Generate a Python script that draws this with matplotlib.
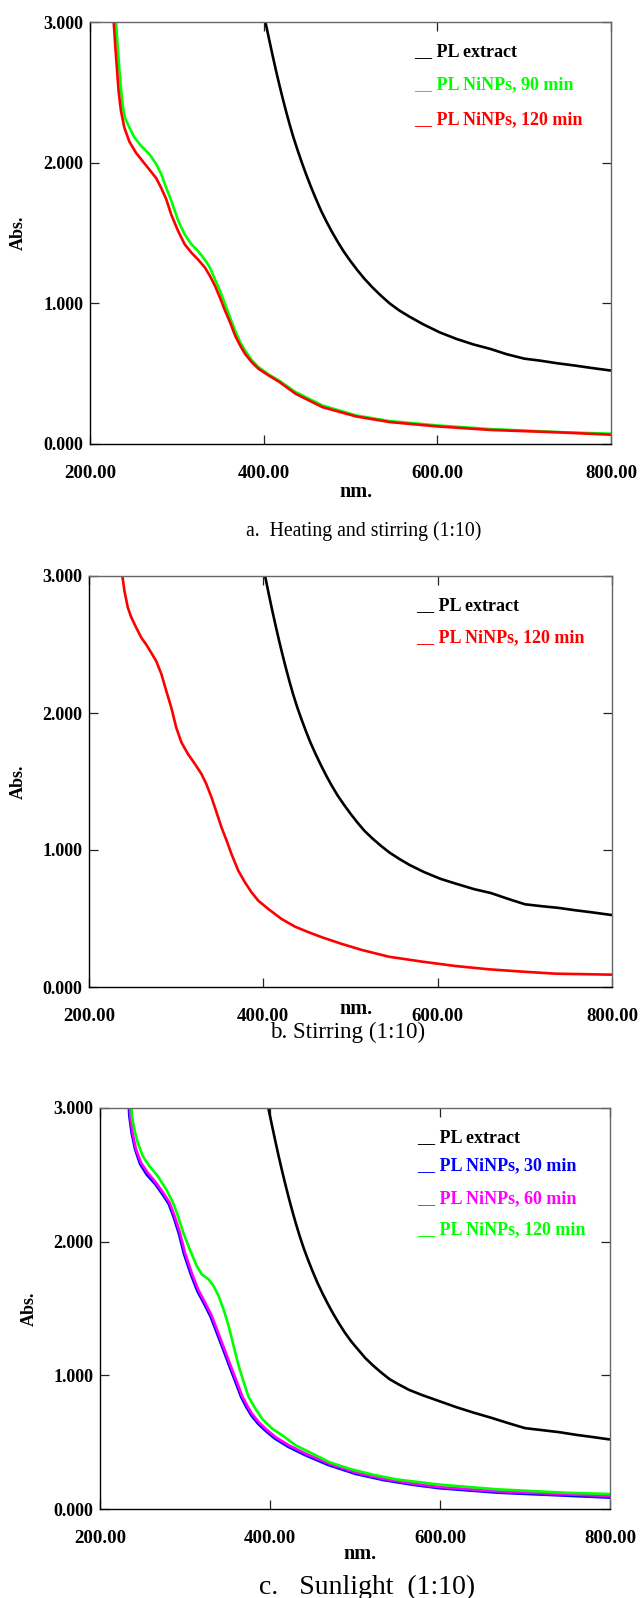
import matplotlib
matplotlib.use("Agg")
import matplotlib.pyplot as plt

# ---------------- data ----------------
# Panel a: Heating and stirring (1:10)
a_black_x = [401.6, 402, 406, 410, 414, 418, 422, 426, 430, 434, 439, 444, 449, 454, 460, 466, 472, 478, 485, 492,
             500, 508, 516, 525, 535, 545, 556, 568, 584, 603, 622, 642, 661, 680, 700, 719, 738, 758, 777, 800]
a_black_y = [3.02, 3.00, 2.885, 2.77, 2.66, 2.555, 2.455, 2.36, 2.27, 2.185, 2.09, 2.00, 1.915, 1.835, 1.745, 1.66,
             1.585, 1.515, 1.44, 1.37, 1.30, 1.235, 1.175, 1.115, 1.055, 1.00, 0.95, 0.905, 0.85, 0.793, 0.747, 0.707,
             0.676, 0.638, 0.607, 0.592, 0.574, 0.558, 0.541, 0.522]
a_green_x = [229.8, 231.7, 233.7, 235.6, 237.5, 240.2, 245.3, 251.1, 258.8, 268.5, 276.2, 282, 287.8, 293.6, 301.4, 309,
             316.8, 324.6, 332.3, 338, 343.9, 349.7, 355.5, 361.3, 367.1, 372.9, 378.7, 386.5, 394.2, 405.8, 417.4,
             436.8, 467.7, 506.4, 545, 600, 661, 738.5, 800]
a_green_y = [3.02, 2.84, 2.67, 2.53, 2.41, 2.32, 2.25, 2.18, 2.12, 2.06, 1.99, 1.92, 1.82, 1.73, 1.59, 1.49, 1.42, 1.37,
             1.31, 1.255, 1.17, 1.09, 0.995, 0.90, 0.806, 0.723, 0.664, 0.593, 0.546, 0.494, 0.452, 0.369, 0.274, 0.203,
             0.163, 0.132, 0.106, 0.085, 0.073]
a_red_x = [227.1, 229, 231, 232.9, 235.6, 239.5, 245.3, 253, 260.7, 268.5, 276.2, 282, 287.8, 293.6, 301.4, 309, 316.8,
           324.6, 332.3, 338, 343.9, 349.7, 355.5, 361.3, 367.1, 372.9, 378.7, 386.5, 394.2, 405.8, 417.4, 436.8, 467.7,
           506.4, 545, 600, 661, 738.5, 800]
a_red_y = [3.02, 2.84, 2.67, 2.51, 2.37, 2.25, 2.15, 2.07, 2.01, 1.95, 1.89, 1.82, 1.74, 1.63, 1.515, 1.42, 1.36, 1.31,
           1.255, 1.196, 1.125, 1.04, 0.948, 0.865, 0.771, 0.70, 0.64, 0.58, 0.534, 0.487, 0.444, 0.357, 0.262, 0.196,
           0.156, 0.125, 0.10, 0.083, 0.066]

# Panel b: Stirring (1:10)
b_black_x = [401.6, 402, 406, 410, 414, 418, 422, 426, 430, 434, 439, 444, 449, 454, 460, 466, 472, 478, 485, 492,
             500, 508, 516, 525, 535, 545, 556, 568, 584, 603, 622, 642, 661, 680, 700, 719, 738, 758, 777, 800]
b_black_y = [3.02, 3.00, 2.875, 2.755, 2.64, 2.53, 2.425, 2.325, 2.23, 2.14, 2.04, 1.95, 1.865, 1.785, 1.70, 1.62,
             1.545, 1.475, 1.40, 1.335, 1.265, 1.20, 1.14, 1.085, 1.03, 0.98, 0.935, 0.89, 0.84, 0.79, 0.752, 0.714,
             0.686, 0.645, 0.604, 0.59, 0.578, 0.56, 0.545, 0.525]
b_red_x = [237.8, 240.7, 244.5, 248.4, 254, 260, 265.6, 271.4, 277, 283, 288.7, 294.4, 300, 306, 313.6, 321.3, 329, 334.7,
           340.5, 346.3, 352, 357.8, 363.5, 371.2, 378.9, 386.6, 394.2, 405.8, 421, 436.5, 451.8, 467.2, 490.2, 513.2,
           544, 582.3, 620.7, 659, 697.5, 736, 774, 800]
b_red_y = [3.02, 2.89, 2.77, 2.70, 2.625, 2.55, 2.50, 2.44, 2.38, 2.285, 2.16, 2.04, 1.895, 1.786, 1.70, 1.63, 1.555,
           1.48, 1.385, 1.275, 1.165, 1.07, 0.97, 0.85, 0.764, 0.69, 0.63, 0.569, 0.496, 0.44, 0.40, 0.363, 0.314, 0.27,
           0.221, 0.185, 0.153, 0.129, 0.112, 0.097, 0.093, 0.090]

# Panel c: Sunlight (1:10)
c_black_x = [397.6, 398, 402, 406, 410, 414, 418, 422, 426, 430, 435, 440, 445, 450, 456, 462, 468, 474, 481, 488,
             496, 504, 512, 521, 531, 541, 552, 564, 580, 600, 620, 640, 660, 680, 700, 720, 740, 760, 780, 800]
c_black_y = [3.02, 3.00, 2.88, 2.76, 2.645, 2.535, 2.43, 2.33, 2.235, 2.145, 2.04, 1.945, 1.86, 1.78, 1.69, 1.61,
             1.535, 1.465, 1.39, 1.32, 1.25, 1.19, 1.13, 1.075, 1.02, 0.97, 0.93, 0.89, 0.85, 0.805, 0.76, 0.72,
             0.683, 0.643, 0.605, 0.59, 0.575, 0.555, 0.538, 0.52]
c_blue_x = [233.8, 234.5, 237.3, 241.3, 247.2, 255.1, 265, 275, 281, 286.8, 292.8, 298.7, 306.6, 314.5, 322.5, 330.4,
            336.3, 342.3, 348.2, 354.1, 360.1, 366, 372, 377.9, 385.8, 393.8, 405.6, 421.5, 441.3, 469, 501, 533, 569,
            600, 668, 747, 800]
c_blue_y = [3.02, 2.94, 2.81, 2.69, 2.58, 2.50, 2.43, 2.34, 2.28, 2.18, 2.06, 1.91, 1.76, 1.63, 1.535, 1.435, 1.336,
            1.236, 1.137, 1.037, 0.938, 0.838, 0.764, 0.701, 0.639, 0.59, 0.527, 0.465, 0.403, 0.328, 0.262, 0.217, 0.18,
            0.155, 0.122, 0.10, 0.085]
c_magenta_x = [234.8, 235.6, 238.4, 242.4, 248.3, 256.2, 266.1, 276, 282, 287.9, 293.9, 299.8, 307.7, 315.6, 323.6,
               331.5, 337.4, 343.4, 349.3, 355.2, 361.2, 367.1, 373.1, 379, 386.9, 394.9, 406.7, 422.6, 442.4, 470,
               501.8, 533.5, 569.1, 600, 668, 747, 800]
c_magenta_y = [3.02, 2.94, 2.81, 2.69, 2.59, 2.515, 2.44, 2.35, 2.29, 2.19, 2.07, 1.92, 1.77, 1.64, 1.545, 1.445, 1.346,
               1.246, 1.147, 1.047, 0.948, 0.848, 0.774, 0.711, 0.649, 0.60, 0.537, 0.475, 0.413, 0.338, 0.271, 0.226,
               0.189, 0.164, 0.132, 0.11, 0.097]
c_green_x = [236.8, 237.6, 240.4, 244.4, 250.3, 258.2, 268, 278, 286, 291.9, 297.8, 305.7, 313.7, 319.6, 327.5, 333.5,
             339.4, 345.3, 351.3, 357.2, 363.2, 369.1, 375, 383, 390.9, 402.8, 414.7, 430.5, 450.3, 470, 493.9, 521.6,
             549.3, 600, 668, 747, 800]
c_green_y = [3.02, 2.94, 2.84, 2.74, 2.64, 2.565, 2.49, 2.39, 2.29, 2.19, 2.07, 1.94, 1.82, 1.756, 1.72, 1.67, 1.595,
             1.495, 1.37, 1.22, 1.07, 0.948, 0.836, 0.749, 0.674, 0.60, 0.55, 0.475, 0.413, 0.35, 0.30, 0.256, 0.221,
             0.182, 0.147, 0.122, 0.112]

x_ticks = [200, 400, 600, 800]
x_ticklabels = ["200.00", "400.00", "600.00", "800.00"]
y_ticks = [0, 1, 2, 3]
y_ticklabels = ["0.000", "1.000", "2.000", "3.000"]

panels = [
    dict(box=(90, 611, 22, 444),
         series=[(a_black_x, a_black_y, "#000000"), (a_green_x, a_green_y, "#00FF00"), (a_red_x, a_red_y, "#FF0000")],
         legend=[("__ PL extract", "#000000", 52), ("__ PL NiNPs, 90 min", "#00FF00", 85), ("__ PL NiNPs, 120 min", "#FF0000", 120)],
         legend_x=414, nm_y=492, caption="a.  Heating and stirring (1:10)", cap_xy=(364, 531), cap_size=14.2, abs_x=18),
    dict(box=(89, 612, 576, 987),
         series=[(b_black_x, b_black_y, "#000000"), (b_red_x, b_red_y, "#FF0000")],
         legend=[("__ PL extract", "#000000", 606), ("__ PL NiNPs, 120 min", "#FF0000", 638)],
         legend_x=416, nm_y=1009, caption="b. Stirring (1:10)", cap_xy=(348, 1032), cap_size=16.6, abs_x=18),
    dict(box=(100, 610, 1108, 1509),
         series=[(c_black_x, c_black_y, "#000000"), (c_blue_x, c_blue_y, "#0000FF"),
                 (c_magenta_x, c_magenta_y, "#FF00FF"), (c_green_x, c_green_y, "#00FF00")],
         legend=[("__ PL extract", "#000000", 1138), ("__ PL NiNPs, 30 min", "#0000FF", 1166),
                 ("__ PL NiNPs, 60 min", "#FF00FF", 1199), ("__ PL NiNPs, 120 min", "#00FF00", 1230)],
         legend_x=417, nm_y=1554, caption="c.   Sunlight  (1:10)", cap_xy=(367, 1587), cap_size=20, abs_x=29),
]

W, H = 640, 1598
fig = plt.figure(figsize=(W / 100, H / 100), dpi=100)
fig.patch.set_facecolor("white")
SERIF = ["Liberation Serif", "DejaVu Serif"]
xtick_font = dict(family=SERIF, weight="bold", size=13.6)
ytick_font = dict(family=SERIF, weight="bold", size=13)


def fx(x):
    return x / W


def fy(y):
    return 1 - y / H


for p in panels:
    l, r, t, b = p["box"]
    ax = fig.add_axes([fx(l), fy(b), (r - l) / W, (b - t) / H])
    for xs, ys, col in p["series"]:
        ax.plot(xs, ys, color=col, lw=1.9, solid_capstyle="butt", solid_joinstyle="round")
    ax.set_xlim(200, 800)
    ax.set_ylim(0, 3)
    ax.set_xticks(x_ticks)
    ax.set_xticklabels(x_ticklabels, fontdict=xtick_font)
    ax.set_yticks(y_ticks)
    ax.set_yticklabels(y_ticklabels, fontdict=ytick_font)
    ax.tick_params(axis="both", direction="in", length=6.5, width=0.9, color="#222222",
                   top=True, right=True)
    ax.tick_params(axis="x", pad=15)
    ax.tick_params(axis="y", pad=5)
    for side in ["left", "bottom"]:
        ax.spines[side].set_color("#000000")
        ax.spines[side].set_linewidth(1.0)
    for side in ["top", "right"]:
        ax.spines[side].set_color("#666666")
        ax.spines[side].set_linewidth(1.0)

    for txt, col, yy in p["legend"]:
        fig.text(fx(p["legend_x"]), fy(yy), txt, color=col, fontsize=13, fontweight="bold",
                 family=SERIF, ha="left", va="center")

    fig.text(fx((l + r) / 2 + 5), fy(p["nm_y"]), "nm.", fontsize=14.5, fontweight="bold",
             family=SERIF, ha="center", va="center")
    fig.text(fx(p["abs_x"]), fy((t + b) / 2), "Abs.", fontsize=13, fontweight="bold",
             family=SERIF, ha="center", va="center", rotation=90)
    fig.text(fx(p["cap_xy"][0]), fy(p["cap_xy"][1]), p["caption"], fontsize=p["cap_size"],
             family=SERIF, ha="center", va="center")

fig.savefig("out.png", dpi=100, facecolor="white")
